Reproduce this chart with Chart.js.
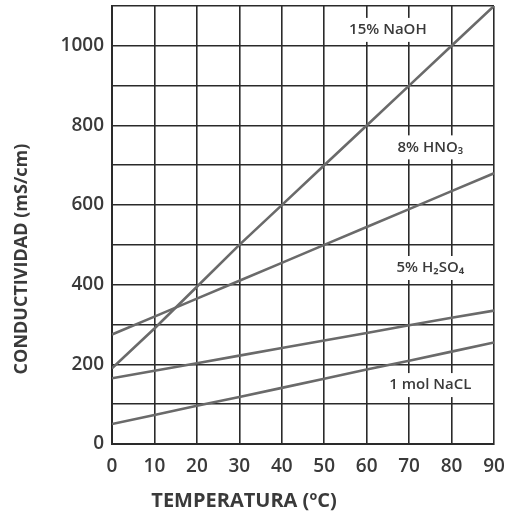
<!DOCTYPE html>
<html>
<head>
<meta charset="utf-8">
<script src="https://cdn.jsdelivr.net/npm/chart.js@4.4.1/dist/chart.umd.min.js"></script>
<style>
  html, body { margin: 0; padding: 0; background: #ffffff; }
  #wrap { width: 513px; height: 514px; position: relative; }
</style>
</head>
<body>
<div id="wrap"><canvas id="c" width="513" height="514"></canvas></div>
<script>
// Temperature (ºC)
const temperatures = [0, 10, 20, 30, 40, 50, 60, 70, 80, 90];
// Conductivity (mS/cm)
const naoh15  = [190, 290, 395, 500, 600, 700, 800, 900, 1000, 1100];
const hno3_8  = [275, 320, 365, 410, 455, 500, 545, 590, 635, 680];
const h2so4_5 = [165, 184, 203, 222, 241, 260, 279, 298, 317, 335];
const nacl1   = [50, 73, 96, 118, 141, 164, 187, 209, 232, 255];

const seriesNames = ['15% NaOH', '8% HNO₃', '5% H₂SO₄', '1 mol NaCL'];
// label anchor positions [temperature, conductivity]
const labelAnchors = [[65, 1040], [75, 745], [75, 442], [75, 148]];

const xTicks = [0, 10, 20, 30, 40, 50, 60, 70, 80, 90];
const yLabelTicks = [0, 200, 400, 600, 800, 1000];
const xTitle = 'TEMPERATURA (ºC)';
const yTitle = 'CONDUCTIVIDAD (mS/cm)';

function pts(vals) { return temperatures.map((t, i) => ({ x: t, y: vals[i] })); }

const LINE_COLOR = '#6a6a6a';
const GRID_COLOR = '#2a2a2a';
const TEXT_COLOR = '#3a3a3a';
const FONT = '"Open Sans", "DejaVu Sans", sans-serif';

const labelPlugin = {
  id: 'labels',
  afterDatasetsDraw(chart) {
    const ctx = chart.ctx;
    const xs = chart.scales.x, ys = chart.scales.y;
    ctx.save();
    ctx.font = '600 15px ' + FONT;
    ctx.textAlign = 'center';
    ctx.textBaseline = 'middle';
    seriesNames.forEach((name, i) => {
      const px = xs.getPixelForValue(labelAnchors[i][0]);
      const py = ys.getPixelForValue(labelAnchors[i][1]);
      const w = ctx.measureText(name).width + 14;
      const h = 24;
      ctx.fillStyle = '#ffffff';
      ctx.fillRect(px - w / 2, py - h / 2, w, h);
      ctx.fillStyle = TEXT_COLOR;
      ctx.fillText(name, px, py);
    });
    ctx.restore();
  },
  afterDraw(chart) {
    const ctx = chart.ctx;
    ctx.save();
    ctx.fillStyle = TEXT_COLOR;
    ctx.font = 'bold 20px ' + FONT;
    ctx.textAlign = 'center';
    ctx.textBaseline = 'middle';
    ctx.fillText(xTitle, 244, 501);
    ctx.font = 'bold 18px ' + FONT;
    ctx.translate(22, 259);
    ctx.rotate(-Math.PI / 2);
    ctx.fillText(yTitle, 0, 0);
    ctx.restore();
  }
};

new Chart(document.getElementById('c'), {
  type: 'line',
  data: {
    datasets: [naoh15, hno3_8, h2so4_5, nacl1].map((v, i) => ({
      label: seriesNames[i],
      data: pts(v),
      borderColor: LINE_COLOR,
      borderWidth: 2.6,
      pointRadius: 0,
      fill: false,
      tension: 0
    }))
  },
  options: {
    responsive: false,
    animation: false,
    layout: { padding: { top: 6, right: 19, left: 0, bottom: 0 } },
    plugins: { legend: { display: false }, tooltip: { enabled: false } },
    scales: {
      x: {
        type: 'linear',
        min: 0, max: 90,
        afterBuildTicks(s) { s.ticks = xTicks.map(v => ({ value: v })); },
        afterFit(s) { s.height = 70; s.paddingLeft = 0; s.paddingRight = 0; },
        grid: { color: GRID_COLOR, lineWidth: 1.6, drawTicks: false },
        border: { color: GRID_COLOR, width: 2 },
        ticks: { color: TEXT_COLOR, font: { family: FONT, size: 19, weight: '600' }, padding: 11 },
        title: { display: false }
      },
      y: {
        type: 'linear',
        min: 0, max: 1100,
        afterBuildTicks(s) {
          const t = [];
          for (let v = 0; v <= 1100; v += 100) t.push({ value: v });
          s.ticks = t;
        },
        afterFit(s) { s.width = 112; s.paddingTop = 0; s.paddingBottom = 0; },
        grid: { color: GRID_COLOR, lineWidth: 1.6, drawTicks: false },
        border: { color: GRID_COLOR, width: 2 },
        ticks: {
          color: TEXT_COLOR,
          font: { family: FONT, size: 19, weight: '600' },
          padding: 8,
          callback: v => (yLabelTicks.includes(v) ? String(v) : '')
        },
        title: { display: false }
      }
    }
  },
  plugins: [labelPlugin]
});
</script>
</body>
</html>
